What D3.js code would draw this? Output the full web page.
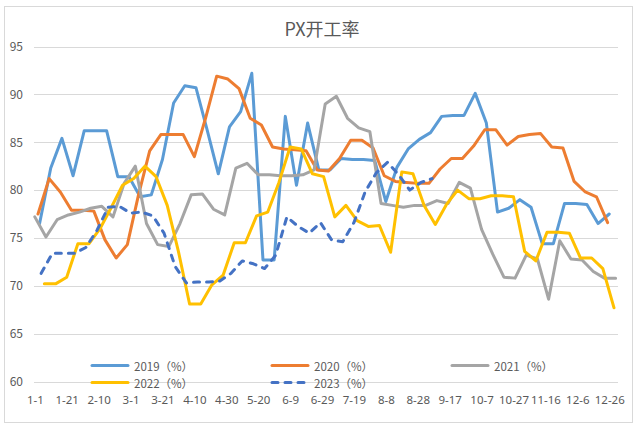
<!DOCTYPE html>
<html>
<head>
<meta charset="utf-8">
<script src="https://cdn.jsdelivr.net/npm/d3@7"></script>
<style>
  html, body { margin: 0; padding: 0; background: #fff; }
  svg { display: block; font-family: "Noto Sans CJK SC", "Noto Sans", sans-serif; }
</style>
</head>
<body>
<svg id="chart" width="637" height="427"></svg>
<script>
// ---- data ----
const chartTitle = "PX开工率";
const tickLabels = ["1-1","1-21","2-10","3-1","3-21","4-10","4-30","5-20","6-9","6-29","7-19","8-8","8-28","9-17","10-7","10-27","11-16","12-6","12-26"];
const tickDays = [0,20,40,60,80,100,120,140,160,180,200,220,240,260,280,300,320,340,360];
const yTicks = [60,65,70,75,80,85,90,95];
const seriesNames = ["2019（%）","2020（%）","2021（%）","2022（%）","2023（%）"];
const seriesStartDay = [3,2,0,6,4]; // day-of-year of each series' first weekly reading
const v2019 = [76.5,82.3,85.4,81.5,86.2,86.2,86.2,81.4,81.4,79.3,79.5,83.2,89.1,90.9,90.7,86.3,81.7,86.6,88.2,92.2,72.7,72.7,87.7,80.5,87.0,82.1,82.1,83.3,83.2,83.2,83.1,78.8,82.4,84.3,85.3,86.0,87.7,87.8,87.8,90.1,87.0,77.7,78.1,79.0,78.2,74.4,74.4,78.6,78.6,78.5,76.5,77.5];
const v2020 = [77.5,81.2,79.8,77.9,77.9,77.8,74.8,72.9,74.3,79.5,84.1,85.8,85.8,85.8,83.5,87.5,91.9,91.6,90.6,87.5,86.8,84.5,84.3,84.2,84.1,82.1,82.0,83.3,85.2,85.2,84.4,81.5,80.9,80.8,80.7,80.7,82.2,83.3,83.3,84.6,86.3,86.3,84.7,85.6,85.8,85.9,84.5,84.4,80.9,79.8,79.3,76.6];
const v2021 = [77.2,75.1,76.9,77.4,77.7,78.1,78.3,77.2,80.7,82.5,76.5,74.3,74.1,76.5,79.5,79.6,78.0,77.4,82.3,82.8,81.6,81.6,81.5,81.5,81.6,82.1,89.0,89.8,87.5,86.5,86.1,78.6,78.4,78.2,78.4,78.4,78.9,78.6,80.8,80.2,75.9,73.3,70.9,70.8,73.2,72.8,68.6,74.7,72.8,72.7,71.5,70.8,70.8];
const v2022 = [70.2,70.2,70.9,74.4,74.4,76.0,78.2,80.5,81.2,82.5,81.4,78.4,73.6,68.1,68.1,70.1,71.1,74.5,74.5,77.3,77.7,80.8,84.5,84.3,81.7,81.4,77.2,78.4,76.8,76.2,76.3,73.5,81.9,81.7,78.4,76.4,78.5,80.0,79.1,79.1,79.4,79.4,79.3,73.6,72.6,75.6,75.6,75.5,72.9,72.9,71.8,67.7];
const v2023 = [71.3,73.4,73.4,73.4,74.0,75.8,78.2,78.3,77.6,77.7,77.3,75.5,72.0,70.3,70.4,70.4,70.5,71.3,72.6,72.3,71.8,73.2,77.2,76.2,75.5,76.6,74.8,74.6,76.6,79.8,81.8,82.9,81.6,80.0,80.8,81.2];
const seriesValues = [v2019, v2020, v2021, v2022, v2023];
const seriesColors = ["#5B9BD5","#ED7D31","#A5A5A5","#FFC000","#4472C4"];
const seriesDashed = [false,false,false,false,true];

// ---- chart ----
const svg = d3.select("#chart");
const textColor = "#595959";
svg.append("rect").attr("x",4.5).attr("y",6.5).attr("width",628).attr("height",416)
   .attr("fill","#fff").attr("stroke","#d9d9d9").attr("stroke-width",1);

const x = d3.scaleLinear().domain([0,366]).range([34,618]);
const y = d3.scaleLinear().domain([60,95]).range([381.5,46.5]);

// gridlines
svg.append("g").selectAll("line").data(yTicks).join("line")
  .attr("x1",x(0)).attr("x2",x(366))
  .attr("y1",d=>Math.round(y(d))+0.5).attr("y2",d=>Math.round(y(d))+0.5)
  .attr("stroke","#d9d9d9").attr("stroke-width",1);

// y axis labels
const yAxis = d3.axisLeft(y).tickValues(yTicks).tickSize(0).tickPadding(0);
const gy = svg.append("g").attr("transform","translate(23,0)").call(yAxis);
gy.select(".domain").remove();
gy.selectAll("text").attr("fill",textColor).style("font-size","12px")
  .style("font-family","'Noto Sans CJK SC', sans-serif");

// x axis labels
const xAxis = d3.axisBottom(x).tickValues(tickDays.map(d=>d+0.5))
  .tickFormat((d,i)=>tickLabels[i]).tickSize(0).tickPadding(0);
const gx = svg.append("g").attr("transform","translate(0,396)").call(xAxis);
gx.select(".domain").remove();
gx.selectAll("text").attr("fill",textColor).style("font-size","11.5px")
  .style("font-family","'Noto Sans', sans-serif");

// series
const line = d3.line().x(d=>x(d.day+0.5)).y(d=>y(d.v));
seriesValues.forEach((vals,si)=>{
  const pts = vals.map((v,i)=>({day: seriesStartDay[si]+7*i, v}));
  const p = svg.append("path").datum(pts).attr("d",line)
    .attr("fill","none").attr("stroke",seriesColors[si])
    .attr("stroke-width",3).attr("stroke-linejoin","round");
  if (seriesDashed[si]) p.attr("stroke-dasharray","6 7").attr("stroke-linecap","round");
  else p.attr("stroke-linecap","round");
});

// title
svg.append("text").attr("x",322).attr("y",36).attr("text-anchor","middle")
  .attr("fill",textColor).style("font-size","18px").text(chartTitle);

// legend
const legendPos = [[90,365.5],[270,365.5],[450,365.5],[90,382.5],[270,382.5]];
seriesNames.forEach((name,si)=>{
  const [lx,ly] = legendPos[si];
  const l = svg.append("line").attr("x1",lx+2).attr("x2",lx+38).attr("y1",ly).attr("y2",ly)
    .attr("stroke",seriesColors[si]).attr("stroke-width",3).attr("stroke-linecap","round");
  if (seriesDashed[si]) l.attr("stroke-dasharray","6 7");
  svg.append("text").attr("x",lx+44).attr("y",ly).attr("dominant-baseline","central")
    .attr("fill",textColor).style("font-size","11.5px").text(name);
});
</script>
</body>
</html>
